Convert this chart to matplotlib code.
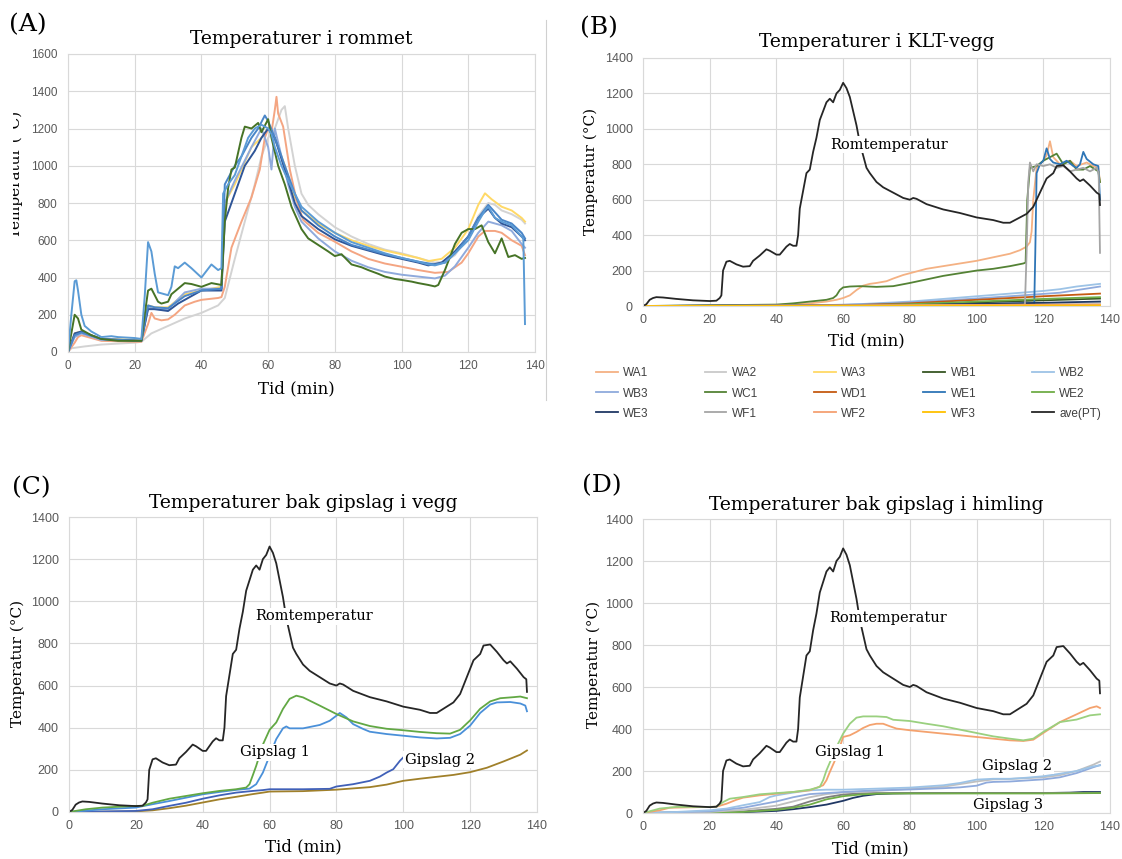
import matplotlib
matplotlib.use('Agg')
import matplotlib.pyplot as plt
from matplotlib.lines import Line2D
from matplotlib.transforms import Bbox, TransformedBbox

plt.rcParams['font.family'] = ['DejaVu Serif']

# ---------------- data: room temperature average (shared by B, C, D)
pt_t = [0, 1, 2, 3, 4, 6, 10, 15, 20, 22, 23, 23.5, 24, 25, 26, 28, 30, 32, 33, 35,
        37, 38, 40, 41, 43, 44, 45, 46, 46.5, 47, 48, 49, 50, 51, 52, 53, 54, 55, 56, 57,
        58, 59, 60, 61, 62, 63, 64, 65, 66, 67, 68, 70, 72, 75, 78, 80, 81, 82, 85, 90,
        95, 100, 105, 108, 110, 112, 115, 117, 119, 121, 123, 124, 126, 128, 130, 131, 132, 134, 136, 136.8,
        137]
pt_v = [0, 10, 35, 45, 50, 48, 40, 32, 28, 30, 45, 60, 200, 250, 255, 235, 222, 225, 255, 285,
        320, 312, 290, 290, 335, 350, 340, 340, 400, 550, 650, 750, 770, 870, 950, 1050, 1100, 1150, 1170, 1150,
        1200, 1220, 1260, 1230, 1180, 1100, 1020, 920, 850, 780, 750, 700, 670, 640, 610, 600, 610, 605, 575, 545,
        525, 500, 485, 470, 470, 490, 520, 560, 640, 720, 750, 790, 795, 760, 720, 705, 715, 680, 640, 630,
        570]

# ---------------- (A) room thermocouples
a_blue_t = [0, 1, 2, 2.5, 3, 4, 5, 7, 10, 13, 15, 20, 22, 23, 24, 25, 26, 27, 30, 31,
            32, 33, 35, 37, 40, 43, 45, 46, 46.5, 48, 50, 52, 54, 56, 58, 60, 61, 62, 64, 66,
            68, 70, 75, 80, 85, 90, 95, 100, 105, 108, 110, 113, 116, 120, 123, 125, 126, 128, 130, 133,
            135, 136.5, 137]
a_blue_v = [0, 200, 380, 385, 330, 200, 140, 110, 80, 85, 80, 75, 70, 300, 590, 540, 420, 320, 305, 350,
            460, 450, 480, 450, 400, 470, 440, 450, 850, 900, 950, 1050, 1150, 1200, 1220, 1200, 1170, 1100, 1000, 920,
            850, 780, 700, 640, 590, 560, 530, 505, 485, 470, 465, 480, 530, 600, 700, 760, 780, 720, 700, 680,
            640, 610, 150]
a_dgreen_t = [0, 1, 2, 3, 4, 7, 10, 15, 20, 22, 23, 24, 25, 27, 28, 30, 31, 33, 35, 37,
              40, 43, 46, 47, 48, 49, 50, 51, 52, 53, 55, 57, 58, 60, 61, 63, 65, 67, 70, 72,
              75, 78, 80, 82, 85, 88, 90, 93, 95, 98, 100, 103, 105, 108, 110, 111, 113, 116, 118, 120,
              122, 124, 126, 128, 130, 132, 134, 136, 137]
a_dgreen_v = [0, 100, 200, 180, 120, 90, 70, 60, 60, 60, 200, 330, 340, 270, 260, 270, 310, 340, 370, 365,
              350, 370, 360, 700, 880, 980, 990, 1070, 1150, 1210, 1200, 1230, 1180, 1250, 1150, 1000, 900, 780, 660, 610,
              575, 540, 515, 525, 470, 455, 440, 420, 405, 392, 387, 378, 370, 360, 352, 360, 440, 580, 640, 660,
              660, 680, 590, 530, 610, 510, 520, 500, 505]
a_gray_t = [0, 1, 5, 10, 15, 20, 22, 25, 30, 35, 40, 45, 47, 50, 53, 56, 58, 60, 62, 64,
            65, 66, 68, 70, 72, 75, 80, 85, 90, 95, 100, 105, 108, 110, 113, 116, 120, 123, 126, 128,
            130, 133, 136, 137]
a_gray_v = [0, 20, 30, 40, 45, 50, 55, 100, 140, 180, 210, 250, 290, 500, 700, 900, 1050, 1150, 1200, 1300,
            1320, 1200, 1000, 850, 790, 740, 670, 620, 580, 550, 530, 505, 490, 480, 485, 520, 620, 730, 800, 790,
            760, 740, 710, 690]
a_orange_t = [0, 2, 3, 4, 6, 10, 20, 22, 24, 25, 26, 28, 30, 32, 35, 38, 40, 45, 46, 47,
              49, 52, 55, 57.5, 59, 60, 61, 62, 62.5, 63, 64.5, 66.5, 68.5, 70.5, 75, 80, 85, 90, 95, 100,
              105, 108, 110, 114, 118, 120, 123, 125, 128, 130, 133, 136, 137]
a_orange_v = [0, 50, 80, 90, 80, 60, 55, 55, 150, 210, 180, 170, 175, 200, 250, 270, 280, 290, 295, 350,
              560, 700, 830, 980, 1150, 1200, 1180, 1300, 1370, 1280, 1210, 980, 816, 709, 640, 592, 540, 500, 475, 458,
              440, 431, 425, 430, 480, 530, 620, 650, 650, 640, 600, 570, 520]
a_yellow_t = [0, 2, 4, 10, 22, 24, 26, 30, 35, 40, 46, 47, 50, 55, 58, 60, 62, 65, 68, 70,
              75, 80, 85, 90, 95, 100, 105, 108, 112, 116, 120, 123, 125, 127, 130, 133, 136, 137]
a_yellow_v = [0, 100, 110, 70, 65, 250, 240, 240, 310, 330, 350, 800, 900, 1100, 1150, 1200, 1150, 1000, 830, 760,
              690, 640, 600, 570, 545, 525, 505, 488, 500, 560, 660, 790, 852, 820, 780, 760, 720, 700]
a_navy_t = [0, 2, 4, 10, 22, 24, 26, 30, 33, 35, 40, 46, 47, 50, 53, 56, 58, 60, 62, 65,
            68, 70, 75, 80, 85, 90, 95, 100, 105, 108, 112, 116, 120, 123, 126, 128, 130, 133, 136, 137]
a_navy_v = [0, 100, 110, 70, 60, 230, 230, 220, 260, 280, 330, 330, 700, 850, 1000, 1080, 1150, 1200, 1150, 980,
            800, 730, 660, 605, 570, 545, 520, 500, 480, 465, 480, 540, 620, 720, 770, 720, 690, 670, 620, 600]
a_corn_t = [0, 2, 4, 10, 22, 24, 26, 30, 35, 40, 46, 47, 50, 55, 58, 60, 61, 62, 64, 66,
            68, 70, 75, 80, 85, 90, 95, 100, 105, 110, 113, 116, 120, 123, 126, 130, 133, 136, 137]
a_corn_v = [0, 80, 100, 65, 60, 240, 230, 230, 320, 340, 340, 800, 920, 1100, 1200, 1100, 980, 1200, 1050, 900,
            780, 700, 610, 540, 490, 455, 430, 415, 405, 395, 410, 460, 560, 640, 700, 680, 650, 580, 560]
a_mid_t = [0, 2, 4, 10, 22, 24, 26, 30, 35, 40, 46, 47, 50, 52, 55, 57, 59, 60, 62, 65,
           68, 70, 75, 80, 85, 90, 95, 100, 105, 110, 113, 116, 120, 123, 126, 128, 130, 133, 136, 137]
a_mid_v = [0, 90, 105, 70, 60, 250, 240, 235, 300, 330, 340, 900, 1000, 1050, 1150, 1200, 1270, 1240, 1150, 1000,
           850, 760, 680, 620, 575, 550, 525, 505, 485, 470, 480, 530, 620, 720, 790, 750, 710, 690, 640, 610]

# ---------------- (B) CLT wall
wa1_t = [0, 40, 50, 55, 58, 60, 62, 64, 66, 68, 70, 73, 75, 78, 80, 83, 85, 90, 95, 100,
         105, 110, 113, 115, 116, 116.5, 117, 118, 120, 121, 122, 123, 125, 128, 130, 133, 135, 136.5, 137]
wa1_v = [0, 5, 15, 25, 35, 45, 60, 90, 115, 125, 130, 140, 155, 175, 185, 200, 210, 225, 240, 255,
         275, 295, 315, 335, 360, 420, 600, 780, 820, 850, 930, 840, 800, 820, 790, 810, 790, 780, 700]
wa2_t = [0, 100, 137]
wa2_v = [0, 8, 15]
wa3_t = [0, 137]
wa3_v = [0, 5]
wb1_t = [0, 60, 80, 100, 120, 137]
wb1_v = [0, 2, 8, 20, 32, 42]
wb2_t = [0, 40, 60, 80, 90, 100, 110, 120, 125, 130, 137]
wb2_v = [0, 2, 6, 25, 40, 55, 70, 85, 95, 110, 125]
wb3_t = [0, 50, 70, 90, 110, 125, 137]
wb3_v = [0, 3, 12, 30, 55, 75, 110]
wc1_t = [0, 40, 45, 50, 55, 57, 58, 59, 60, 62, 65, 70, 75, 80, 85, 90, 95, 100, 105, 110,
         114, 114.7, 115.2, 116, 118, 120, 122, 124, 126, 128, 130, 132, 134, 136.5, 137]
wc1_v = [0, 8, 15, 25, 35, 45, 60, 90, 105, 110, 112, 108, 112, 130, 150, 170, 185, 200, 210, 225,
         240, 245, 600, 780, 790, 820, 840, 860, 800, 820, 770, 770, 790, 760, 700]
wd1_t = [0, 60, 80, 100, 120, 137]
wd1_v = [0, 3, 15, 35, 55, 70]
we1_t = [0, 100, 117.3, 117.6, 118, 119, 120, 121, 122, 123, 125, 127, 129, 130, 131, 132, 133, 135, 136.5, 137]
we1_v = [0, 10, 15, 300, 750, 800, 820, 890, 830, 810, 800, 820, 790, 780, 800, 870, 830, 800, 790, 600]
we2_t = [0, 60, 80, 100, 120, 137]
we2_v = [0, 2, 10, 25, 40, 50]
we3_t = [0, 80, 100, 120, 137]
we3_v = [0, 5, 12, 18, 25]
wf1_t = [0, 100, 114, 114.5, 115, 115.5, 116, 117, 118, 120, 122, 124, 126, 128, 130, 132, 134, 136, 136.6, 137]
wf1_v = [0, 5, 8, 10, 300, 700, 810, 760, 800, 790, 800, 780, 790, 760, 770, 780, 760, 780, 750, 300]
wf2_t = [0, 137]
wf2_v = [0, 8]
wf3_t = [0, 137]
wf3_v = [0, 3]

b_names = ['WA1', 'WA2', 'WA3', 'WB1', 'WB2', 'WB3', 'WC1', 'WD1', 'WE1', 'WE2',
           'WE3', 'WF1', 'WF2', 'WF3', 'ave(PT)']

# ---------------- (C) behind gypsum, wall
c_green_t = [0, 5, 10, 20, 22, 25, 30, 35, 40, 45, 50, 53, 54, 55, 56, 58, 60, 62, 64, 66,
             68, 70, 75, 80, 85, 90, 95, 100, 105, 110, 114, 117, 120, 123, 126, 129, 133, 135, 137]
c_green_v = [0, 13, 21, 29, 29, 44, 63, 76, 89, 100, 108, 116, 132, 175, 219, 320, 390, 425, 489, 537,
             552, 544, 505, 465, 430, 408, 395, 388, 380, 374, 372, 390, 435, 490, 525, 540, 545, 548, 540]
c_blue_t = [0, 10, 20, 25, 30, 35, 40, 45, 50, 54, 56, 58, 60, 62, 64, 65, 66, 70, 75, 78,
            80, 81, 83, 85, 88, 90, 95, 100, 105, 110, 114, 117, 120, 123, 126, 128, 132, 135, 136.5, 137]
c_blue_v = [0, 13, 21, 37, 52, 68, 84, 95, 105, 111, 132, 187, 267, 346, 397, 406, 397, 397, 413, 433,
            457, 470, 449, 417, 394, 381, 370, 362, 354, 349, 352, 370, 410, 470, 510, 520, 522, 515, 505, 478]
c_dblue_t = [0, 20, 25, 30, 35, 40, 45, 50, 55, 58, 60, 65, 70, 78, 80, 85, 90, 93, 95, 97,
             99, 100]
c_dblue_v = [0, 5, 13, 29, 44, 63, 79, 92, 100, 104, 108, 108, 108, 110, 121, 132, 148, 168, 187, 203,
             243, 259]
c_olive_t = [0, 20, 25, 30, 35, 40, 45, 50, 55, 58, 60, 65, 70, 80, 85, 90, 95, 100, 105, 110,
             115, 120, 125, 130, 135, 137]
c_olive_v = [0, 3, 8, 18, 30, 45, 60, 72, 85, 92, 97, 98, 99, 106, 112, 118, 130, 148, 158, 167,
             176, 189, 210, 240, 272, 292]

# ---------------- (D) behind gypsum, ceiling
d_lgreen_t = [0, 5, 10, 20, 22, 24, 26, 30, 35, 40, 45, 50, 53, 54, 55, 58, 60, 62, 64, 66,
              70, 73, 75, 80, 85, 90, 95, 100, 105, 110, 114, 117, 120, 125, 130, 134, 137]
d_lgreen_v = [0, 21, 29, 29, 30, 52, 68, 76, 89, 95, 100, 111, 124, 156, 203, 314, 378, 425, 454, 460,
              460, 457, 444, 438, 425, 413, 397, 381, 365, 354, 346, 354, 386, 433, 445, 465, 470]
d_orange_t = [0, 5, 8, 20, 22, 25, 28, 30, 35, 40, 45, 50, 54, 55, 56, 58, 60, 62, 64, 66,
              68, 70, 72, 74, 76, 80, 85, 90, 95, 100, 105, 110, 114, 117, 120, 125, 130, 134, 136, 137]
d_orange_v = [0, 13, 25, 29, 30, 44, 63, 73, 84, 92, 100, 108, 132, 156, 195, 267, 362, 370, 386, 405,
              419, 425, 425, 413, 402, 394, 386, 378, 370, 362, 354, 346, 343, 349, 381, 433, 470, 500, 508, 500]
d_g2a_t = [0, 10, 20, 25, 30, 35, 38, 40, 43, 45, 50, 55, 60, 70, 80, 90, 95, 100, 105, 110,
           115, 120, 125, 130, 135, 137]
d_g2a_v = [0, 5, 13, 21, 37, 52, 76, 84, 92, 97, 108, 111, 111, 116, 121, 132, 143, 159, 163, 163,
           168, 175, 187, 200, 222, 227]
d_g2b_t = [0, 20, 30, 35, 40, 45, 50, 55, 60, 70, 80, 90, 95, 100, 103, 105, 110, 115, 120, 125,
           130, 135, 137]
d_g2b_v = [0, 8, 25, 40, 55, 75, 90, 95, 100, 108, 112, 118, 122, 130, 145, 148, 150, 155, 160, 170,
           190, 218, 228]
d_g2c_t = [0, 20, 30, 40, 45, 50, 55, 60, 70, 80, 90, 100, 105, 110, 120, 125, 130, 135, 137]
d_g2c_v = [0, 5, 15, 35, 55, 75, 90, 98, 105, 115, 125, 150, 160, 162, 170, 180, 200, 230, 245]
d_g3a_t = [0, 20, 30, 40, 45, 50, 55, 60, 63, 66, 70, 75, 80, 100, 120, 128, 132, 137]
d_g3a_v = [0, 2, 4, 10, 18, 28, 40, 58, 72, 82, 90, 93, 94, 95, 95, 97, 100, 100]
d_g3b_t = [0, 30, 40, 45, 50, 55, 60, 65, 70, 80, 137]
d_g3b_v = [0, 8, 20, 30, 55, 75, 88, 93, 95, 95, 96]
d_g3c_t = [0, 20, 30, 40, 45, 50, 55, 60, 65, 70, 80, 100, 120, 137]
d_g3c_v = [0, 2, 5, 15, 25, 40, 65, 80, 88, 92, 93, 93, 93, 95]

W, H = 1122, 859
fig = plt.figure(figsize=(W / 100, H / 100), dpi=100)


def add_panel(l, r, t, b):
    return fig.add_axes([l / W, 1 - b / H, (r - l) / W, (b - t) / H])


def style(ax, ymax, fs):
    ax.set_xlim(0, 140)
    ax.set_ylim(0, ymax)
    ax.set_xticks(range(0, 141, 20))
    ax.set_yticks(range(0, ymax + 1, 200))
    ax.grid(True, color='#D9D9D9', lw=0.8)
    ax.set_axisbelow(True)
    for s in ax.spines.values():
        s.set_color('#D9D9D9')
        s.set_linewidth(0.8)
    ax.tick_params(length=0, labelsize=fs, labelcolor='#595959', labelfontfamily='Liberation Sans')
    ax.tick_params(axis='x', pad=5.5)
    ax.tick_params(axis='y', pad=7.5)


label_box = dict(fc='white', ec='none', pad=1)

# ---- (A)
axA = add_panel(68, 535, 54, 352)
style(axA, 1600, 8.5)
lw_a = 1.4
axA.plot(a_gray_t, a_gray_v, color='#D3D3D3', lw=lw_a)
axA.plot(a_yellow_t, a_yellow_v, color='#FFD966', lw=lw_a)
axA.plot(a_orange_t, a_orange_v, color='#F4A582', lw=lw_a)
axA.plot(a_corn_t, a_corn_v, color='#8FAADC', lw=lw_a)
axA.plot(a_navy_t, a_navy_v, color='#2F5597', lw=lw_a)
axA.plot(a_mid_t, a_mid_v, color='#4A86C8', lw=lw_a)
axA.plot(a_dgreen_t, a_dgreen_v, color='#467326', lw=lw_a)
axA.plot(a_blue_t, a_blue_v, color='#5B9BD5', lw=lw_a)
axA.set_title('Temperaturer i rommet', fontsize=13.5, pad=7.5)
axA.set_xlabel('Tid (min)', fontsize=12)
axA.xaxis.set_label_coords(0.49, -0.094)
ylab = fig.text(16 / W, 1 - 174 / H, 'Temperatur (°C)', rotation=90, ha='center', va='center', fontsize=11)
ylab.set_clip_box(TransformedBbox(Bbox([[13 / W, 0], [1, 1]]), fig.transFigure))
ylab.set_clip_on(True)
fig.add_artist(Line2D([546 / W, 546 / W], [1 - 20 / H, 1 - 400 / H], color='#D0D0D0', lw=0.8))

# ---- (B)
axB = add_panel(643, 1110, 58, 306)
style(axB, 1400, 9)
lw_b = 1.3
series_b = [(wa1_t, wa1_v, '#F4B183'), (wa2_t, wa2_v, '#C9C9C9'), (wa3_t, wa3_v, '#FFD966'),
            (wb1_t, wb1_v, '#375623'), (wb2_t, wb2_v, '#9DC3E6'), (wb3_t, wb3_v, '#8FAADC'),
            (wc1_t, wc1_v, '#548235'), (wd1_t, wd1_v, '#C55A11'), (we1_t, we1_v, '#2E75B6'),
            (we2_t, we2_v, '#70AD47'), (we3_t, we3_v, '#203864'), (wf1_t, wf1_v, '#A5A5A5'),
            (wf2_t, wf2_v, '#F4A072'), (wf3_t, wf3_v, '#FFC000'), (pt_t, pt_v, '#262626')]
handles = []
for (t, v, c), name in zip(series_b, b_names):
    ln, = axB.plot(t, v, color=c, lw=lw_b, label=name)
    handles.append(ln)
axB.text(56, 911, 'Romtemperatur', fontsize=10.5, ha='left', va='center', bbox=label_box)
axB.set_title('Temperaturer i KLT-vegg', fontsize=13.5, pad=8)
axB.set_xlabel('Tid (min)', fontsize=12)
axB.xaxis.set_label_coords(0.478, -0.105)
axB.set_ylabel('Temperatur (°C)', fontsize=11)
axB.yaxis.set_label_coords(-0.0964, 0.544)
order = [r * 5 + c for c in range(5) for r in range(3)]
leg = axB.legend([handles[i] for i in order], [b_names[i] for i in order], ncol=5,
                 loc='upper left', bbox_to_anchor=(596 / W, 1 - 367.5 / H), bbox_transform=fig.transFigure,
                 frameon=False, borderpad=0, borderaxespad=0, handlelength=1.85, handletextpad=0.45,
                 columnspacing=4.74, labelspacing=0.68,
                 prop={'family': 'Liberation Sans', 'size': 8.5})
for txt in leg.get_texts():
    txt.set_color('#404040')

# ---- (C)
axC = add_panel(69, 537, 517, 812)
style(axC, 1400, 9)
lw_c = 1.3
axC.plot(c_olive_t, c_olive_v, color='#A0802A', lw=lw_c)
axC.plot(c_dblue_t, c_dblue_v, color='#4060B8', lw=lw_c)
axC.plot(c_blue_t, c_blue_v, color='#4A90D9', lw=lw_c)
axC.plot(c_green_t, c_green_v, color='#62A844', lw=lw_c)
axC.plot(pt_t, pt_v, color='#262626', lw=lw_c)
axC.text(55.6, 929, 'Romtemperatur', fontsize=10.5, ha='left', va='center', bbox=label_box)
axC.text(51.3, 283, 'Gipslag 1', fontsize=10.5, ha='left', va='center', bbox=label_box)
axC.text(100.5, 248, 'Gipslag 2', fontsize=10.5, ha='left', va='center', bbox=label_box)
axC.set_title('Temperaturer bak gipslag i vegg', fontsize=13.5, pad=6.3)
axC.set_xlabel('Tid (min)', fontsize=12)
axC.xaxis.set_label_coords(0.5, -0.088)
axC.set_ylabel('Temperatur (°C)', fontsize=11)
axC.yaxis.set_label_coords(-0.095, 0.502)

# ---- (D)
axD = add_panel(643, 1110, 519, 813)
style(axD, 1400, 9)
lw_d = 1.3
axD.plot(d_g3a_t, d_g3a_v, color='#203864', lw=lw_d)
axD.plot(d_g3b_t, d_g3b_v, color='#7F7F7F', lw=lw_d)
axD.plot(d_g3c_t, d_g3c_v, color='#70AD47', lw=lw_d)
axD.plot(d_g2c_t, d_g2c_v, color='#BFBFBF', lw=lw_d)
axD.plot(d_g2b_t, d_g2b_v, color='#8FAADC', lw=lw_d)
axD.plot(d_g2a_t, d_g2a_v, color='#9DC3E6', lw=lw_d)
axD.plot(d_orange_t, d_orange_v, color='#F4A26E', lw=lw_d)
axD.plot(d_lgreen_t, d_lgreen_v, color='#9AD07F', lw=lw_d)
axD.plot(pt_t, pt_v, color='#262626', lw=lw_d)
axD.text(55.9, 927, 'Romtemperatur', fontsize=10.5, ha='left', va='center', bbox=label_box)
axD.text(51.6, 290, 'Gipslag 1', fontsize=10.5, ha='left', va='center', bbox=label_box)
axD.text(101.7, 225, 'Gipslag 2', fontsize=10.5, ha='left', va='center', bbox=label_box)
axD.text(98.8, 40, 'Gipslag 3', fontsize=10.5, ha='left', va='center', bbox=label_box)
axD.set_title('Temperaturer bak gipslag i himling', fontsize=13.5, pad=6.5)
axD.set_xlabel('Tid (min)', fontsize=12)
axD.xaxis.set_label_coords(0.487, -0.092)
axD.set_ylabel('Temperatur (°C)', fontsize=11)
axD.yaxis.set_label_coords(-0.09, 0.507)

# ---- panel letters
for x, y, s in [(9, 25, '(A)'), (580, 28, '(B)'), (12, 488, '(C)'), (582, 486, '(D)')]:
    fig.text(x / W, 1 - y / H, s, fontsize=18, ha='left', va='center')

fig.savefig('out.png', dpi=100, facecolor='white')
